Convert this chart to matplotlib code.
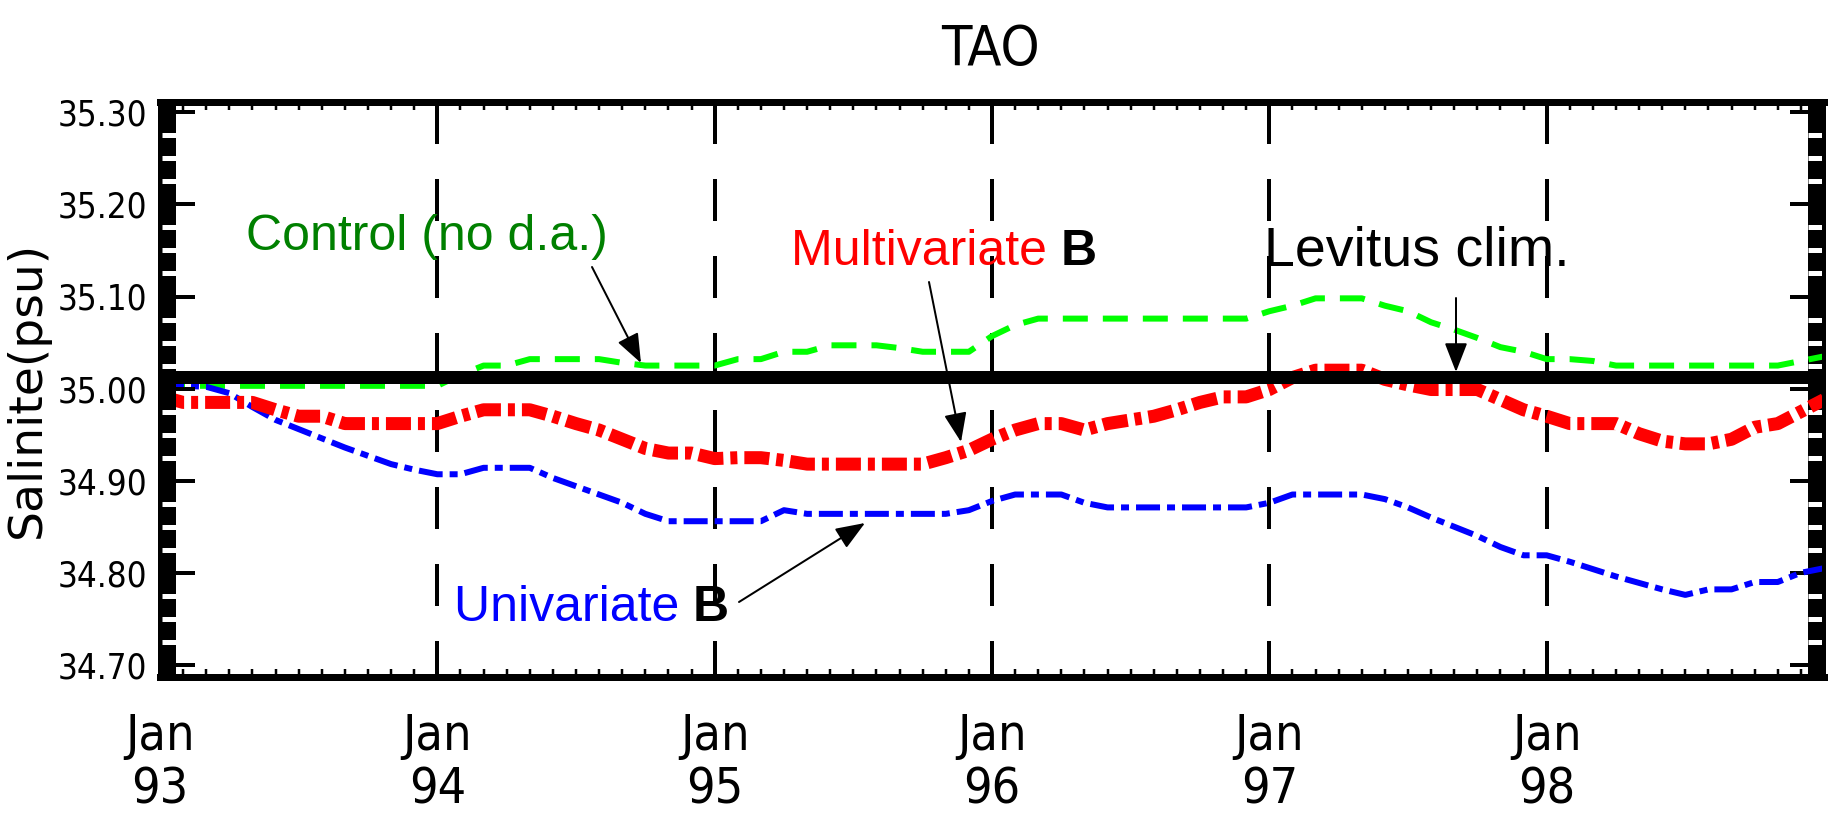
import matplotlib
matplotlib.use("Agg")
import matplotlib.pyplot as plt
import numpy as np
from matplotlib import font_manager as fm
from matplotlib.ticker import MultipleLocator, FixedLocator
from matplotlib.patches import Rectangle
import matplotlib.transforms as mtransforms

# ---------------- data (monthly, Jan 1993 .. Jan 1999) ----------------
months = np.arange(73)

control = [35.003] * 13 + [35.015, 35.025, 35.025,
           35.032, 35.032, 35.032, 35.032, 35.028,
           35.025, 35.025, 35.025, 35.025, 35.032, 35.032,
           35.040, 35.040, 35.047, 35.047, 35.047, 35.044,
           35.040, 35.040, 35.040, 35.057, 35.069] + [35.076] * 10 + [
           35.084, 35.090, 35.098, 35.098, 35.098, 35.090, 35.084,
           35.072, 35.064, 35.055, 35.045, 35.040, 35.032, 35.032,
           35.030] + [35.025] * 8 + [35.030, 35.035]

multivariate = [34.992, 34.985, 34.985, 34.985, 34.985, 34.977, 34.970, 34.970,
                34.962, 34.962, 34.962, 34.962, 34.962, 34.970, 34.977, 34.977,
                34.977, 34.970, 34.962, 34.955, 34.945, 34.935, 34.930, 34.930,
                34.924, 34.925, 34.925, 34.922, 34.918, 34.918, 34.918, 34.918,
                34.918, 34.918, 34.925, 34.933, 34.945, 34.955, 34.962, 34.962,
                34.955, 34.962, 34.966, 34.970, 34.977, 34.985, 34.991, 34.991,
                34.999, 35.012, 35.020, 35.020, 35.020, 35.010, 35.004, 34.999,
                34.999, 34.999, 34.988, 34.977, 34.970, 34.962, 34.962, 34.962,
                34.951, 34.943, 34.940, 34.940, 34.945, 34.958, 34.962, 34.975,
                34.988]

univariate = [35.003, 35.003, 35.002, 34.995, 34.980, 34.966, 34.956, 34.946,
              34.936, 34.927, 34.918, 34.912, 34.907, 34.907, 34.914, 34.914,
              34.914, 34.903, 34.894, 34.885, 34.876, 34.864, 34.856, 34.856,
              34.856, 34.856, 34.856, 34.868, 34.864, 34.864, 34.864, 34.864,
              34.864, 34.864, 34.864, 34.868, 34.878, 34.885, 34.885, 34.885,
              34.876, 34.871, 34.871, 34.871, 34.871, 34.871, 34.871, 34.871,
              34.876, 34.885, 34.885, 34.885, 34.885, 34.880, 34.871, 34.860,
              34.850, 34.840, 34.828, 34.819, 34.819, 34.812, 34.804, 34.796,
              34.789, 34.782, 34.776, 34.782, 34.782, 34.790, 34.790, 34.800,
              34.805]

levitus = 35.013

year_grid = [12, 24, 36, 48, 60]
xtick_pos = [0, 12, 24, 36, 48, 60]
xtick_labels = ["Jan\n93", "Jan\n94", "Jan\n95", "Jan\n96", "Jan\n97", "Jan\n98"]
ytick_vals = [34.70, 34.80, 34.90, 35.00, 35.10, 35.20, 35.30]
ytick_labels = ["34.70", "34.80", "34.90", "35.00", "35.10", "35.20", "35.30"]

# ---------------- fonts ----------------
narrow = None
for f in fm.fontManager.ttflist:
    nm = f.name
    if ("Narrow" in nm or "Condensed" in nm or str(f.stretch) in ("condensed", "semi-condensed", "extra-condensed")) \
            and str(f.weight) in ("400", "normal", "regular", "book") and f.style == "normal" \
            and "Mono" not in nm and "Serif" not in nm:
        narrow = f.fname
        break
if narrow is not None:
    fp_px = lambda size: fm.FontProperties(fname=narrow, size=size)
else:
    fp_px = lambda size: fm.FontProperties(family="DejaVu Sans", size=size)

plt.rcParams["lines.scale_dashes"] = False
plt.rcParams["font.family"] = ["Liberation Sans", "DejaVu Sans"]

W, H = 1833, 826
fig = plt.figure(figsize=(W / 100, H / 100), dpi=100)
fig.patch.set_facecolor("white")

L, R, T, B = 160, 1824, 102, 677
ax = fig.add_axes([L / W, 1 - B / H, (R - L) / W, (B - T) / H])
ymin = 35.0 - (B - 388.6) / 921
ymax = 35.0 + (388.6 - T) / 921
ax.set_xlim(0, 72)
ax.set_ylim(ymin, ymax)

px = 0.72  # points per pixel

# vertical dashed year lines
for m in year_grid:
    ax.plot([m, m], [ymax, ymin], color="black", lw=4 * px,
            dashes=(42 * px, 35 * px), solid_capstyle="butt", zorder=1.5)

# series
ax.plot(months, control, color="#00ff00", lw=6 * px, dashes=(25 * px, 15 * px),
        dash_capstyle="butt", zorder=2)
ax.plot(months, multivariate, color="#ff0000", lw=13 * px,
        dashes=(25 * px, 7 * px, 7 * px, 7 * px), dash_capstyle="butt", zorder=2.2)
ax.plot(months, univariate, color="#0000ff", lw=6 * px,
        dashes=(24 * px, 7 * px, 8 * px, 7 * px), dash_capstyle="butt", zorder=2.1)
ax.axhline(levitus, color="black", lw=13 * px, zorder=3)

# frame
for s in ("top", "bottom"):
    ax.spines[s].set_linewidth(7 * px)
for s in ("left", "right"):
    ax.spines[s].set_linewidth(4 * px)
for s in ax.spines.values():
    s.set_zorder(6)

# thick inner bands on left / right with white notches
bw = 16 / (R - L)
ax.add_patch(Rectangle((0, 0), bw, 1, transform=ax.transAxes, color="black", zorder=5, lw=0))
ax.add_patch(Rectangle((1 - bw, 0), bw, 1, transform=ax.transAxes, color="black", zorder=1.8, lw=0))
blend = mtransforms.blended_transform_factory(ax.transAxes, ax.transData)
notch = np.arange(34.70, 35.31, 0.025)
notch = [v for v in notch if abs(round(v * 10) - v * 10) > 0.01]
ax.hlines(notch, 0.0015, bw, transform=blend, color="white", lw=5 * px, zorder=5.5)
ax.hlines(notch, 1 - bw, 0.9985, transform=blend, color="white", lw=5 * px, zorder=1.9)
# major y ticks (inward, both sides)
ax.hlines(ytick_vals, 0, 35 / (R - L), transform=blend, color="black", lw=4 * px, zorder=5.6)
ax.hlines(ytick_vals, 1 - 34 / (R - L), 1, transform=blend, color="black", lw=4 * px, zorder=1.9)

# ticks
ax.yaxis.set_major_locator(FixedLocator(ytick_vals))
ax.set_yticklabels(ytick_labels, fontproperties=fp_px(25))
ax.tick_params(axis="y", which="major", length=0, pad=9)
ax.xaxis.set_major_locator(FixedLocator(xtick_pos))
ax.set_xticklabels(xtick_labels, fontproperties=fp_px(36), linespacing=1.15)
ax.tick_params(axis="x", which="major", length=0, pad=25)
ax.xaxis.set_minor_locator(MultipleLocator(1))
ax.tick_params(axis="x", which="minor", direction="in", length=8 * px, width=2.5 * px,
               top=True, bottom=True, color="black")

# title and y label
fig.text(990 / W, 1 - 65 / H, "TAO", ha="center", va="baseline", fontproperties=fp_px(40))
fig.text(27 / W, 1 - 389 / H, "Salinite(psu)", ha="center", va="center", rotation=90,
         fontproperties=fm.FontProperties(family="DejaVu Sans", size=34))

# annotations (figure pixel coordinates, y measured from top)
def fpx(x, y):
    return (x, H - y)

fs = 36
fig.text(246 / W, 1 - 250 / H, "Control (no d.a.)", color="#008000", fontsize=fs,
         ha="left", va="baseline")
t1 = fig.text(791 / W, 1 - 265 / H, "Multivariate ", color="#ff0000", fontsize=fs,
              ha="left", va="baseline")
fig.text(1264 / W, 1 - 266 / H, "Levitus clim.", color="black", fontsize=40,
         ha="left", va="baseline")
t2 = fig.text(454 / W, 1 - 621 / H, "Univariate ", color="#0000ff", fontsize=fs,
              ha="left", va="baseline")
fig.canvas.draw()
r = fig.canvas.get_renderer()
for t, yb in ((t1, 265), (t2, 621)):
    bb = t.get_window_extent(r)
    fig.text(bb.x1 / W, 1 - yb / H, "B", color="black", fontsize=fs, fontweight="bold",
             ha="left", va="baseline")

arrow_kw = dict(arrowstyle="-|>,head_length=0.9,head_width=0.35", color="black",
                lw=2 * px, mutation_scale=20, shrinkA=0, shrinkB=0)
for (x0, y0), (x1, y1) in (((592, 267), (641, 363)),
                           ((929, 282), (961, 442)),
                           ((739, 602), (865, 523)),
                           ((1456, 298), (1456, 372))):
    ax.annotate("", xy=fpx(x1, y1), xycoords="figure pixels",
                xytext=fpx(x0, y0), textcoords="figure pixels",
                arrowprops=arrow_kw, zorder=7, annotation_clip=False)

fig.savefig("out.png", dpi=100)
